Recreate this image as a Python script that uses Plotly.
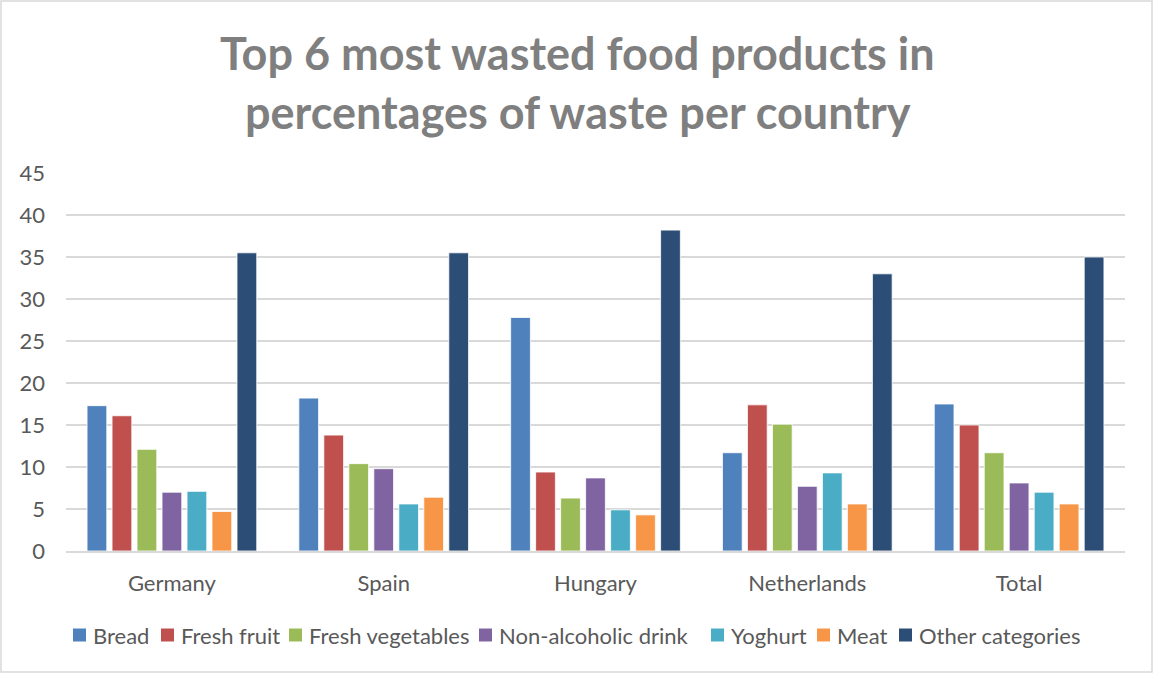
import plotly.graph_objects as go

# Countries on the category axis
countries = ["Germany", "Spain", "Hungary", "Netherlands", "Total"]

# Share of waste (%) per product, one list per series
bread = [17.3, 18.2, 27.8, 11.7, 17.5]
fresh_fruit = [16.1, 13.8, 9.4, 17.4, 15.0]
fresh_vegetables = [12.1, 10.4, 6.3, 15.1, 11.7]
non_alcoholic_drink = [7.0, 9.8, 8.7, 7.7, 8.1]
yoghurt = [7.1, 5.6, 4.9, 9.3, 7.0]
meat = [4.7, 6.4, 4.3, 5.6, 5.6]
other_categories = [35.5, 35.5, 38.2, 33.0, 35.0]

series = [
    ("Bread", bread, "#4F81BD"),
    ("Fresh fruit", fresh_fruit, "#C0504D"),
    ("Fresh vegetables", fresh_vegetables, "#9BBB59"),
    ("Non-alcoholic drink", non_alcoholic_drink, "#8064A2"),
    ("Yoghurt", yoghurt, "#4BACC6"),
    ("Meat", meat, "#F79646"),
    ("Other categories", other_categories, "#2C4D75"),
]

y_ticks = [0, 5, 10, 15, 20, 25, 30, 35, 40, 45]

FONT = "Lato, Calibri, Carlito, sans-serif"
TEXT_GREY = "#595959"
TITLE_GREY = "#7F7F7F"

fig = go.Figure()
for name, values, color in series:
    fig.add_trace(go.Bar(
        name=name,
        x=countries,
        y=values,
        marker=dict(color=color, line=dict(color="white", width=0.8)),
        showlegend=False,
    ))

W, H = 1154, 674
L, R, T, B = 66, 29, 173, 123
pw, ph = W - L - R, H - T - B


def px_x(x):
    return (x - L) / pw


def px_y(y):
    return (H - B - y) / ph


# Single-row legend below the plot: a colour square followed by its label
legend_left = [73, 161, 289, 479, 711, 817, 899]
legend_mid_y = 635
sq = 13
shapes = [
    dict(type="rect", xref="paper", yref="paper",
         x0=px_x(1), x1=px_x(1152), y0=px_y(672), y1=px_y(1),
         line=dict(color="#D9D9D9", width=1.5), layer="below"),
]
annotations = [
    dict(text="<b>Top 6 most wasted food products in</b>",
         x=px_x(577), xref="paper", y=px_y(53), yref="paper",
         xanchor="center", yanchor="middle", showarrow=False,
         font=dict(family=FONT, size=45, color=TITLE_GREY)),
    dict(text="<b>percentages of waste per country</b>",
         x=px_x(578), xref="paper", y=px_y(112), yref="paper",
         xanchor="center", yanchor="middle", showarrow=False,
         font=dict(family=FONT, size=45, color=TITLE_GREY)),
]
for (name, _, color), lx in zip(series, legend_left):
    shapes.append(dict(
        type="rect", xref="paper", yref="paper",
        x0=px_x(lx), x1=px_x(lx + sq),
        y0=px_y(legend_mid_y + sq / 2), y1=px_y(legend_mid_y - sq / 2),
        fillcolor=color, line=dict(width=0),
    ))
    annotations.append(dict(
        text=name, x=px_x(lx + sq + 5), xref="paper",
        y=px_y(legend_mid_y), yref="paper",
        xanchor="left", yanchor="middle", showarrow=False,
        font=dict(family=FONT, size=22, color=TEXT_GREY),
    ))

fig.update_layout(
    width=W,
    height=H,
    margin=dict(l=L, r=R, t=T, b=B),
    paper_bgcolor="white",
    plot_bgcolor="white",
    barmode="group",
    bargap=0.174,
    bargroupgap=0.21,
    font=dict(family=FONT, color=TEXT_GREY, size=21),
    showlegend=False,
    xaxis=dict(
        showgrid=False,
        showline=True,
        linecolor="#D9D9D9",
        linewidth=1.5,
        ticks="",
        tickfont=dict(size=22, color=TEXT_GREY),
        ticklabelstandoff=12,
    ),
    yaxis=dict(
        range=[0, 45],
        tickvals=y_ticks,
        showgrid=True,
        gridcolor="#D9D9D9",
        gridwidth=1.5,
        zeroline=False,
        showline=False,
        ticks="",
        tickfont=dict(size=22, color=TEXT_GREY),
        ticklabelstandoff=20,
    ),
    annotations=annotations,
    shapes=shapes,
)

fig.write_html("out.html")
